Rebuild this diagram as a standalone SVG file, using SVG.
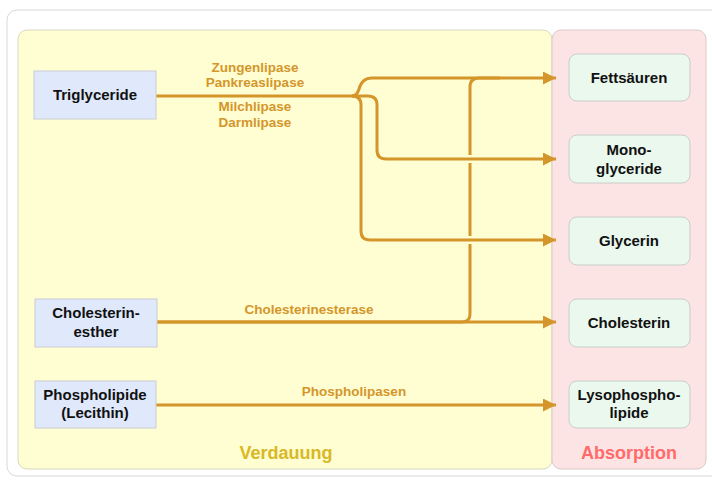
<svg xmlns="http://www.w3.org/2000/svg" width="712" height="485" viewBox="0 0 712 485">
<defs>
<style>
.src{fill:#e0e9fb;stroke:#c9ccd6;stroke-width:1}
.dst{fill:#eaf8ee;stroke:#c8cec8;stroke-width:1}
.nt{font-family:"Liberation Sans",Arial,sans-serif;font-weight:bold;font-size:15px;fill:#111;text-anchor:middle}
.et{font-family:"Liberation Sans",Arial,sans-serif;font-weight:bold;font-size:13.5px;fill:#d4962a;text-anchor:middle}
.ln{fill:none;stroke:#d4962a;stroke-width:3;stroke-linejoin:round}
.pl{font-family:"Liberation Sans",Arial,sans-serif;font-weight:bold;font-size:18px;text-anchor:middle}
</style>
<marker id="ah" viewBox="0 0 13 13" refX="13" refY="6.5" markerWidth="13" markerHeight="13" markerUnits="userSpaceOnUse" orient="auto">
<path d="M0,0 L13,6.5 L0,13 Z" fill="#d4962a"/>
</marker>
</defs>
<rect x="0" y="0" width="712" height="485" fill="#ffffff"/>
<rect x="7" y="10" width="720" height="466" rx="10" fill="#ffffff" stroke="#d8d8d8"/>
<g id="verdauung">
<rect x="18" y="30" width="534" height="439" rx="9" fill="#fffdd2" stroke="#d9d8c0"/>
<text class="pl" x="286" y="459" fill="#d9b826">Verdauung</text>
</g>
<g id="absorption">
<rect x="552" y="30" width="154" height="439" rx="9" fill="#fde4e4" stroke="#dcc8c8"/>
<text class="pl" x="629" y="459" fill="#ff6b6b">Absorption</text>
</g>
<g id="connectors">
<path class="ln" d="M156,96 H352 Q357,96 359,89 Q362,78 372,78 H556" marker-end="url(#ah)"/>
<path class="ln" d="M352,96 H368 Q377,96 377,105 V150 Q377,159 386,159 H556" marker-end="url(#ah)"/>
<path class="ln" d="M352,96 Q361,96 361,105 V231 Q361,240 370,240 H556" marker-end="url(#ah)"/>
<path class="ln" d="M157,322 H556" marker-end="url(#ah)"/>
<path class="ln" d="M157,322 H462 Q470,322 470,314 V244"/>
<path class="ln" d="M470,236 V163"/>
<path class="ln" d="M470,155 V87 Q470,78 479,78 H500"/>
<path class="ln" d="M156,405 H556" marker-end="url(#ah)"/>
<text class="et" x="255" y="72">Zungenlipase</text>
<text class="et" x="255" y="87">Pankreaslipase</text>
<text class="et" x="255" y="111">Milchlipase</text>
<text class="et" x="255" y="127">Darmlipase</text>
<text class="et" x="309" y="314">Cholesterinesterase</text>
<text class="et" x="354" y="396">Phospholipasen</text>
</g>
<g id="triglyceride">
<rect class="src" x="34" y="71" width="122" height="48"/>
<text class="nt" x="95" y="100">Triglyceride</text>
</g>
<g id="cholesterinesther">
<rect class="src" x="35" y="299" width="122" height="48"/>
<text class="nt" x="96" y="318">Cholesterin-</text>
<text class="nt" x="96" y="337">esther</text>
</g>
<g id="phospholipide">
<rect class="src" x="35" y="381" width="121" height="47"/>
<text class="nt" x="95" y="400">Phospholipide</text>
<text class="nt" x="95" y="418">(Lecithin)</text>
</g>
<g id="fettsaeuren">
<rect class="dst" x="569" y="54" width="121" height="47" rx="8"/>
<text class="nt" x="629" y="83">Fettsäuren</text>
</g>
<g id="monoglyceride">
<rect class="dst" x="569" y="135" width="121" height="48" rx="8"/>
<text class="nt" x="629" y="155">Mono-</text>
<text class="nt" x="629" y="174">glyceride</text>
</g>
<g id="glycerin">
<rect class="dst" x="569" y="217" width="121" height="48" rx="8"/>
<text class="nt" x="629" y="246">Glycerin</text>
</g>
<g id="cholesterin">
<rect class="dst" x="569" y="299" width="121" height="48" rx="8"/>
<text class="nt" x="629" y="328">Cholesterin</text>
</g>
<g id="lysophospholipide">
<rect class="dst" x="569" y="381" width="121" height="47" rx="8"/>
<text class="nt" x="629" y="400">Lysophospho-</text>
<text class="nt" x="629" y="418">lipide</text>
</g>
</svg>
